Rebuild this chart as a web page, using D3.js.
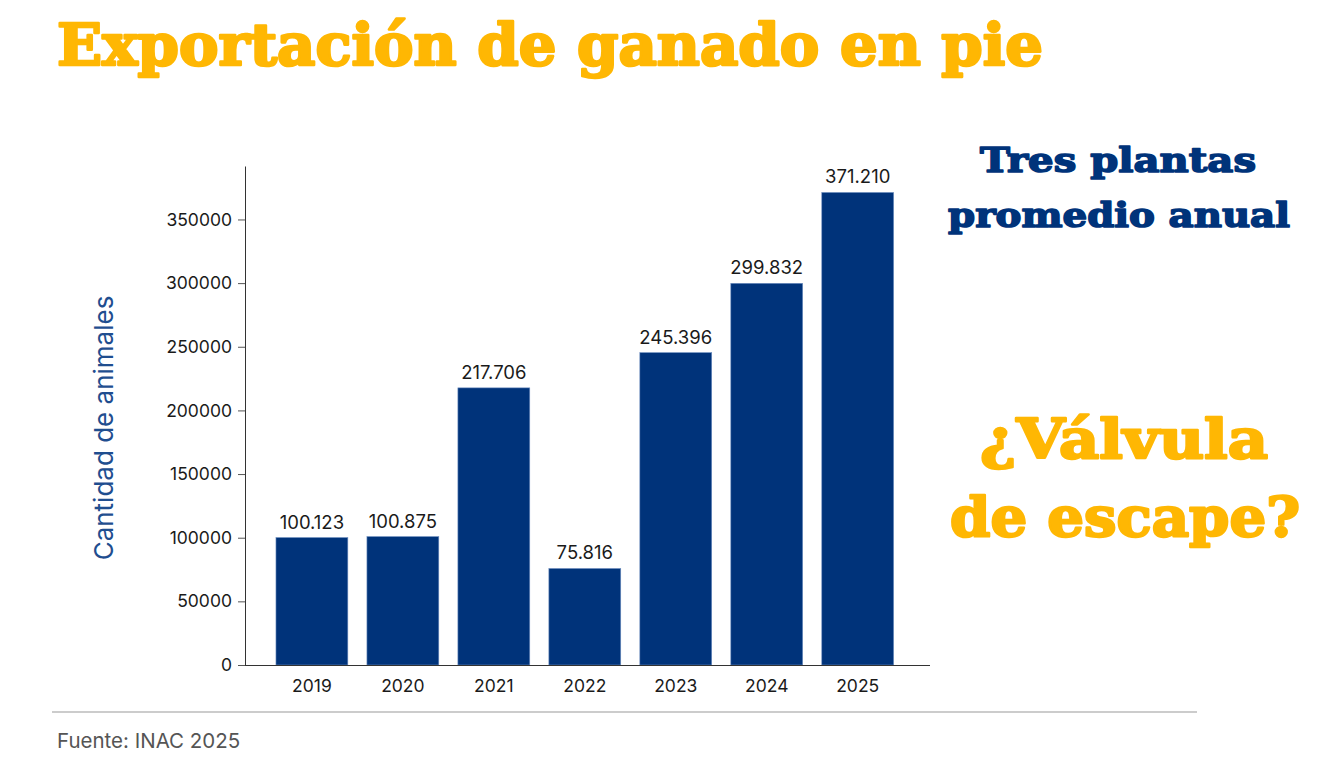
<!DOCTYPE html>
<html>
<head>
<meta charset="utf-8">
<script src="https://cdn.jsdelivr.net/npm/d3@7"></script>
<style>
	body { margin: 0; background: #fff; }
	svg { display: block; }
</style>
</head>
<body>
<div id="chart"></div>
<script>
//Data
let years = ["2019", "2020", "2021", "2022", "2023", "2024", "2025"];
let animals = [100123, 100875, 217706, 75816, 245396, 299832, 371210];
let valueLabels = ["100.123", "100.875", "217.706", "75.816", "245.396", "299.832", "371.210"];
let yTicks = [0, 50000, 100000, 150000, 200000, 250000, 300000, 350000];

//Dimensions
let width = 1320;
let height = 763;
let plotLeft = 245, plotRight = 930, plotTop = 166, plotBottom = 665;

let yellow = "#ffb703";
let navy = "#00337a";
let slab = "'DejaVu Serif', serif";
let sans = "Inter, Roboto, sans-serif";

//SVG container
let svg = d3.select("#chart").append("svg")
	.attr("width", width)
	.attr("height", height);

//Utility: heavy slab text fitted to a given width
let fitText = function(txt, x, y, size, fill, anchor, w, weight){
	return svg.append("text")
		.attr("x", x)
		.attr("y", y)
		.attr("text-anchor", anchor)
		.attr("textLength", w)
		.attr("lengthAdjust", "spacingAndGlyphs")
		.style("font-family", slab)
		.style("font-weight", "900")
		.style("font-size", size + "px")
		.attr("fill", fill)
		.attr("stroke", fill)
		.attr("stroke-width", weight)
		.attr("stroke-linejoin", "round")
		.text(txt);
}

//Title
fitText("Exportación de ganado en pie", 57, 65, 58, yellow, "start", 986, 2.6);

//Side notes
fitText("Tres plantas", 1118, 172, 34, navy, "middle", 276, 1.6);
fitText("promedio anual", 1119, 227, 34, navy, "middle", 342, 1.6);
fitText("¿Válvula", 1124, 458, 54, yellow, "middle", 288, 2.4);
fitText("de escape?", 1125, 536, 54, yellow, "middle", 350, 2.4);

//Scales
let x = d3.scaleBand()
	.domain(years)
	.range([plotLeft, plotRight])
	.paddingInner(0.21)
	.paddingOuter(0.37)
	.align(0.46);

let y = d3.scaleLinear()
	.domain([0, 392000])
	.range([plotBottom, plotTop]);

//Bars
svg.selectAll(".bar")
		.data(animals)
	.enter()
		.append("rect")
			.attr("class", "bar")
			.attr("x", function(d, i){ return x(years[i]); })
			.attr("y", function(d){ return y(d); })
			.attr("width", x.bandwidth())
			.attr("height", function(d){ return y(0) - y(d); })
			.attr("fill", navy)
			.attr("stroke", "#6f8fc0")
			.attr("stroke-width", 0.6);

//Value labels
svg.selectAll(".value")
		.data(animals)
	.enter()
		.append("text")
			.attr("class", "value")
			.attr("x", function(d, i){ return x(years[i]) + x.bandwidth() / 2; })
			.attr("y", function(d){ return y(d) - 9; })
			.attr("text-anchor", "middle")
			.style("font-family", sans)
			.style("font-size", "18.5px")
			.attr("fill", "#1a1a1a")
			.text(function(d, i){ return valueLabels[i]; });

//Axes
let yAxis = svg.append("g")
	.attr("transform", "translate(" + plotLeft + ",0)")
	.call(d3.axisLeft(y).tickValues(yTicks).tickFormat(d3.format("d")).tickSize(7).tickSizeOuter(0).tickPadding(6));

let xAxis = svg.append("g")
	.attr("transform", "translate(0," + plotBottom + ")")
	.call(d3.axisBottom(x).tickSize(0).tickPadding(15).tickSizeOuter(0));

[yAxis, xAxis].forEach(function(g){
	g.select(".domain").attr("stroke", "#333");
	g.selectAll(".tick line").attr("stroke", "#555");
	g.selectAll(".tick text")
		.style("font-family", sans)
		.style("font-size", "17.5px")
		.attr("fill", "#1a1a1a");
});
xAxis.select(".domain").attr("d", "M" + plotLeft + ",0.5H" + plotRight);

//Y axis title
svg.append("text")
	.attr("transform", "translate(113,428) rotate(-90)")
	.attr("text-anchor", "middle")
	.style("font-family", sans)
	.style("font-size", "26px")
	.attr("fill", "#1f4e8f")
	.text("Cantidad de animales");

//Footer
svg.append("line")
	.attr("x1", 52).attr("x2", 1197)
	.attr("y1", 712).attr("y2", 712)
	.attr("stroke", "#999")
	.attr("stroke-width", 1.2);

svg.append("text")
	.attr("x", 57)
	.attr("y", 748)
	.style("font-family", sans)
	.style("font-size", "20.5px")
	.attr("fill", "#555")
	.text("Fuente: INAC 2025");
</script>
</body>
</html>
